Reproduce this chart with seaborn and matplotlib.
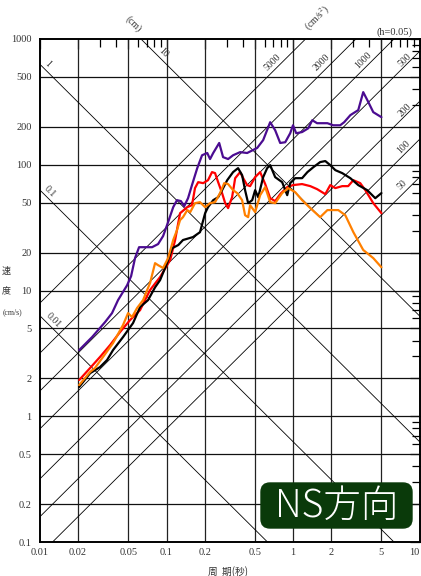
import numpy as np
import seaborn as sns
import matplotlib.pyplot as plt
from matplotlib.patches import FancyBboxPatch
from matplotlib.transforms import IdentityTransform
from matplotlib.ticker import FixedLocator, NullFormatter

# periods (s) and pseudo-velocity response (cm/s)
purple_T = [0.0204, 0.0258, 0.0327, 0.0371, 0.0414, 0.0488, 0.0525, 0.0564, 0.0607, 0.0677,
            0.0769, 0.0858, 0.094, 0.103, 0.113, 0.121, 0.130, 0.138, 0.148, 0.159,
            0.175, 0.191, 0.210, 0.221, 0.234, 0.261, 0.280, 0.307, 0.336, 0.382,
            0.434, 0.521, 0.581, 0.660, 0.723, 0.792, 0.868, 0.950, 1.00, 1.06,
            1.18, 1.32, 1.42, 1.55, 1.87, 2.08, 2.36, 2.54, 2.84, 3.28,
            3.59, 3.94, 4.31, 5.0]
purple_v = [3.36, 4.26, 5.61, 6.61, 8.39, 11.0, 13.0, 18.1, 22.1, 22.1,
            22.1, 23.4, 27.1, 35.0, 46.0, 52.3, 51.4, 46.8, 54.2, 68.9,
            94.0, 119, 124, 111, 124, 149, 115, 111, 119, 126,
            124, 136, 157, 218, 188, 149, 151, 178, 206, 178,
            182, 195, 226, 214, 214, 206, 206, 218, 248, 272,
            378, 315, 262, 239]

red_T = [0.0204, 0.0249, 0.0298, 0.0358, 0.0429, 0.0515, 0.0618, 0.0742, 0.0890, 0.107,
         0.117, 0.128, 0.146, 0.159, 0.168, 0.178, 0.195, 0.213, 0.229, 0.242,
         0.256, 0.275, 0.291, 0.307, 0.330, 0.349, 0.382, 0.404, 0.434, 0.458,
         0.502, 0.550, 0.603, 0.660, 0.723, 0.792, 0.900, 1.00, 1.18, 1.37,
         1.55, 1.80, 1.97, 2.16, 2.45, 2.73, 3.00, 3.40, 3.73, 4.31, 5.0]
red_v = [1.94, 2.42, 2.96, 3.68, 4.67, 5.82, 6.98, 10.1, 12.8, 17.5,
         25.2, 41.2, 46.0, 47.7, 65.2, 72.7, 71.4, 75.4, 87.4, 85.8,
         72.7, 59.5, 49.5, 45.2, 55.2, 78.2, 87.4, 78.2, 68.9, 67.6,
         79.7, 87.4, 70.2, 54.2, 51.4, 58.4, 66.4, 68.9, 70.2, 67.6,
         64.0, 58.4, 68.9, 65.2, 67.6, 67.6, 75.4, 71.4, 62.8, 49.5, 41.2]

black_T = [0.0204, 0.0249, 0.0298, 0.0339, 0.0378, 0.0453, 0.0544, 0.0618, 0.0715, 0.0812,
           0.0890, 0.101, 0.111, 0.124, 0.135, 0.162, 0.184, 0.202, 0.213, 0.234,
           0.256, 0.275, 0.302, 0.336, 0.368, 0.396, 0.418, 0.442, 0.476, 0.502,
           0.531, 0.581, 0.625, 0.660, 0.723, 0.821, 0.900, 0.950, 1.04, 1.18,
           1.30, 1.45, 1.64, 1.80, 1.97, 2.16, 2.45, 2.84, 3.28, 3.86, 4.47, 5.0]
black_v = [1.71, 2.20, 2.46, 2.80, 3.36, 4.26, 5.51, 7.38, 8.39, 10.6,
           12.1, 16.5, 21.7, 23.0, 25.2, 26.6, 29.1, 41.2, 46.0, 52.3,
           55.2, 62.8, 75.4, 87.4, 94.0, 82.7, 62.8, 49.5, 52.3, 62.8,
           55.2, 79.7, 94.0, 99.3, 79.7, 72.7, 57.3, 71.4, 78.2, 78.2,
           87.4, 95.7, 105, 107, 99.3, 90.6, 85.8, 78.2, 68.9, 62.8, 54.2, 59.5]

orange_T = [0.0204, 0.0249, 0.0272, 0.0315, 0.0378, 0.0453, 0.0497, 0.0534, 0.0585, 0.0653,
            0.0742, 0.0812, 0.0858, 0.0940, 0.103, 0.113, 0.121, 0.128, 0.135, 0.146,
            0.154, 0.168, 0.184, 0.202, 0.221, 0.242, 0.265, 0.286, 0.307, 0.336,
            0.362, 0.396, 0.418, 0.442, 0.458, 0.502, 0.550, 0.603, 0.660, 0.723,
            0.821, 0.916, 1.04, 1.18, 1.37, 1.64, 1.87, 2.28, 2.59, 3.00,
            3.59, 4.31, 5.0]
orange_v = [1.77, 2.25, 2.42, 2.96, 3.82, 5.31, 6.61, 6.15, 7.25, 8.39,
            11.5, 16.5, 15.9, 15.1, 18.1, 25.2, 30.2, 36.3, 38.3, 43.6,
            42.0, 49.5, 50.4, 46.0, 49.5, 50.4, 59.5, 71.4, 70.2, 62.8,
            59.5, 52.3, 39.7, 38.3, 47.7, 42.0, 57.3, 66.4, 50.4, 49.5,
            59.5, 65.2, 60.6, 52.3, 45.2, 38.3, 43.6, 43.6, 39.7, 29.1,
            21.0, 18.1, 15.3]

# tripartite guide lines
disp_lines = [0.01, 0.1, 1, 10]                        # cm
acc_lines = [50, 100, 200, 500, 1000, 2000, 5000]      # cm/s^2

x_ticks = [0.01, 0.02, 0.05, 0.1, 0.2, 0.5, 1, 2, 5, 10]
y_ticks = [0.1, 0.2, 0.5, 1, 2, 5, 10, 20, 50, 100, 200, 500, 1000]

sns.set_theme(style="white")
plt.rcParams['font.family'] = ['Liberation Serif', 'Noto Sans CJK JP']
plt.rcParams['mathtext.fontset'] = 'stix'

W, H = 421, 576
fig = plt.figure(figsize=(W / 100, H / 100), dpi=100)
ax = fig.add_axes([40 / W, 1 - 542 / H, 379.5 / W, 503 / H])
ax.set_xscale('log')
ax.set_yscale('log')
ax.set_xlim(0.01, 10)
ax.set_ylim(0.1, 1000)

# grid
for v in x_ticks[1:-1]:
    ax.axvline(v, color='#222222', lw=0.9, zorder=1)
for v in y_ticks[1:-1]:
    ax.axhline(v, color='#111111', lw=0.9, zorder=1)

# displacement and acceleration lines
T = np.logspace(-2, 1, 200)
for d in disp_lines:
    ax.plot(T, 2 * np.pi * d / T, color='black', lw=0.6, zorder=1)
for a in acc_lines:
    ax.plot(T, a * T / (2 * np.pi), color='black', lw=0.6, zorder=1)

# response curves
for tt, vv, c in [(purple_T, purple_v, '#4b0c91'),
                  (red_T, red_v, '#ff0000'),
                  (black_T, black_v, '#000000'),
                  (orange_T, orange_v, '#ff8000')]:
    sns.lineplot(x=tt, y=vv, ax=ax, color=c, lw=1.6, estimator=None, sort=False, zorder=3)

# ticks
ax.set_xticks(x_ticks)
ax.set_xticklabels([f"{v:g}" for v in x_ticks])
ax.get_xticklabels()[-1].set_horizontalalignment('right')
ax.set_yticks(y_ticks)
ax.set_yticklabels([f"{v:g}" for v in y_ticks])
minors = [k * 10.0 ** e for e in range(-2, 3) for k in (3, 4, 6, 7, 8, 9)]
ax.xaxis.set_minor_locator(FixedLocator([m for m in minors if m < 10]))
ax.yaxis.set_minor_locator(FixedLocator([m for m in minors if 0.1 < m < 1000]))
ax.xaxis.set_minor_formatter(NullFormatter())
ax.yaxis.set_minor_formatter(NullFormatter())
ax.tick_params(which='both', direction='in', top=True, right=True, color='black')
ax.tick_params(which='major', length=7, width=0.9, labelsize=7.5, labelcolor='#333333')
ax.tick_params(which='minor', length=5.5, width=0.9)
ax.tick_params(axis='y', pad=6)
ax.tick_params(axis='x', pad=4)
for s in ax.spines.values():
    s.set_color('black')
    s.set_linewidth(1.4)


def ftext(x, y, s, **kw):
    kw.setdefault('fontsize', 7)
    kw.setdefault('color', '#333333')
    fig.text(x / W, 1 - y / H, s, ha='center', va='center', **kw)


# line labels
ftext(48, 64, "1", rotation=-45)
ftext(163, 53, "10", rotation=-45)
ftext(50, 192, "0.1", rotation=-45)
ftext(53, 320, "0.01", rotation=-45)
ftext(133, 24, "(cm)", rotation=-45)
ftext(318, 18, "(cm/s$^2$)", rotation=45)
for lab, (px, py) in zip(["5000", "2000", "1000", "500", "200", "100", "50"],
                         [(273, 62), (322, 62), (363, 60), (405, 60), (405, 110), (404, 147), (402, 185)]):
    ftext(px, py, lab, rotation=45)
ftext(394, 32, "(h=0.05)", fontsize=7.5)

# axis labels
ftext(6, 271, "速", fontsize=6.5, family=['Noto Sans CJK JP'])
ftext(6, 291, "度", fontsize=6.5, family=['Noto Sans CJK JP'])
ftext(12, 312, "(cm/s)", fontsize=5.5)
ftext(228, 572, "周  期(秒)", fontsize=7, family=['Noto Sans CJK JP'])

# NS direction badge
badge = FancyBboxPatch((261, H - 528), 151, 45, boxstyle="round,pad=0,rounding_size=9",
                       transform=IdentityTransform(), fc='#0a3a0a', ec='#0a3a0a', zorder=10)
fig.add_artist(badge)
fig.text(336.5 / W, 1 - 506 / H, "NS方向", ha='center', va='center', color='white',
         fontsize=27, fontweight='light', family=['Noto Sans CJK JP'], zorder=11)

fig.savefig('out.png', dpi=100)
